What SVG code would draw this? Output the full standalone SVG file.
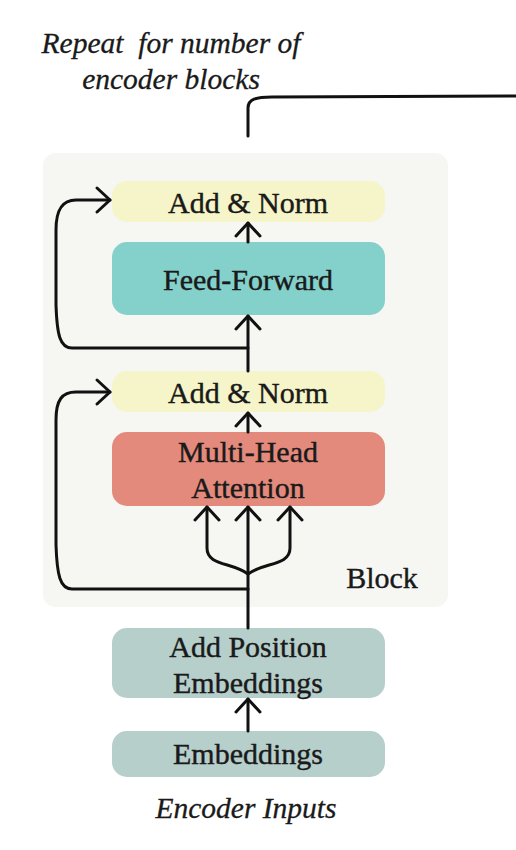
<svg xmlns="http://www.w3.org/2000/svg" width="516" height="850" viewBox="0 0 516 850">
<style>
.lbl{font-family:"Liberation Serif","Times New Roman",serif;font-size:30px;fill:#1a1a1a;stroke:#1a1a1a;stroke-width:0.4;text-anchor:middle}
.it{font-family:"Liberation Serif","Times New Roman",serif;font-style:italic;font-size:29.5px;fill:#1a1a1a;stroke:#1a1a1a;stroke-width:0.3;text-anchor:middle}
.ln{fill:none;stroke:#111;stroke-width:3;stroke-linecap:round;stroke-linejoin:round}
</style>
<defs>
<marker id="ah" markerUnits="userSpaceOnUse" markerWidth="30" markerHeight="30" refX="0" refY="0" viewBox="-16 -15 18 30" orient="auto" overflow="visible">
<path d="M-13,-12 L0,0 L-13,12" fill="none" stroke="#111" stroke-width="3" stroke-linecap="round" stroke-linejoin="round"/>
</marker>
</defs>
<rect width="516" height="850" fill="#ffffff"/>
<g id="block">
<rect x="43" y="153" width="405" height="454" rx="13" fill="#f6f6f3"/>
<text class="lbl" x="382" y="588">Block</text>
</g>
<g id="repeat-label">
<text class="it" x="171" y="53" xml:space="preserve">Repeat  for number of</text>
<text class="it" x="171" y="89">encoder blocks</text>
</g>
<g id="addnorm2">
<rect x="112" y="181" width="273" height="41" rx="15" fill="#f5f5c9"/>
<text class="lbl" x="248" y="213">Add &amp; Norm</text>
</g>
<g id="feedforward">
<rect x="112" y="242" width="273" height="73" rx="15" fill="#84d1cc"/>
<text class="lbl" x="248" y="290">Feed-Forward</text>
</g>
<g id="addnorm1">
<rect x="112" y="371" width="273" height="41" rx="15" fill="#f5f5c9"/>
<text class="lbl" x="248" y="403">Add &amp; Norm</text>
</g>
<g id="attention">
<rect x="112" y="432" width="273" height="74" rx="15" fill="#e48a7c"/>
<text class="lbl" x="248" y="462">Multi-Head</text>
<text class="lbl" x="248" y="498">Attention</text>
</g>
<g id="posemb">
<rect x="112" y="628" width="273" height="70" rx="15" fill="#b6cfcb"/>
<text class="lbl" x="248" y="657">Add Position</text>
<text class="lbl" x="248" y="693">Embeddings</text>
</g>
<g id="emb">
<rect x="112" y="731" width="273" height="46" rx="15" fill="#b6cfcb"/>
<text class="lbl" x="248" y="764">Embeddings</text>
</g>
<g id="inputs-label">
<text class="it" x="246" y="818">Encoder Inputs</text>
</g>
<g id="connectors">
<path class="ln" d="M248,731 L248,699" marker-end="url(#ah)"/>
<path class="ln" d="M248,628 L248,507" marker-end="url(#ah)"/>
<path class="ln" d="M248,574 C232,562 207,566 207,548 L207,507" marker-end="url(#ah)"/>
<path class="ln" d="M248,574 C264,562 290,566 290,548 L290,507" marker-end="url(#ah)"/>
<path class="ln" d="M248,589 L72,589 C60,589 57,575 56,545 L56,420 C56,400 62,392 76,392 L110,392" marker-end="url(#ah)"/>
<path class="ln" d="M248,432 L248,413" marker-end="url(#ah)"/>
<path class="ln" d="M248,371 L248,316" marker-end="url(#ah)"/>
<path class="ln" d="M248,348 L72,348 C60,348 57,335 56,305 L56,230 C56,210 62,200 76,200 L110,200" marker-end="url(#ah)"/>
<path class="ln" d="M248,242 L248,223" marker-end="url(#ah)"/>
<path class="ln" d="M248,136 L248,108 C248,99 256,97 272,97 L516,96"/>
</g>
</svg>
